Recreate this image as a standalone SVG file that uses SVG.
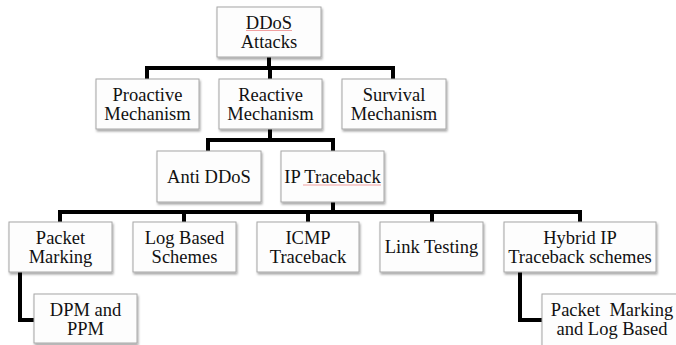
<svg xmlns="http://www.w3.org/2000/svg" width="676" height="345" viewBox="0 0 676 345">
<defs>
<filter id="sh" x="-10%" y="-10%" width="130%" height="140%">
<feDropShadow dx="1" dy="2" stdDeviation="1.2" flood-color="#000" flood-opacity="0.35"/>
</filter>
<style>
.box{fill:#fdfdfd;stroke:#a6a6a6;stroke-width:1;filter:url(#sh)}
.t{font-family:"Liberation Serif","Times New Roman",serif;font-size:18.5px;fill:#111;text-anchor:middle}
.c{fill:none;stroke:#000;stroke-width:4;stroke-linejoin:miter;stroke-linecap:butt}
.sp{stroke:#f2a0a0;stroke-width:1;fill:none}
</style>
</defs>
<rect width="676" height="345" fill="#fff"/>
<g id="connectors">
<path class="c" d="M269,57V70M147,81V68H393V81M270,68V81"/>
<path class="c" d="M270,129V142M208,153V140H333V153"/>
<path class="c" d="M333,202V214M60,224V212H580V224M184,212V224M308,212V224M432,212V224"/>
<path class="c" d="M20,272V320H36"/>
<path class="c" d="M520,272V320H544"/>
</g>
<g id="ddos">
<rect class="box" x="217" y="7" width="104" height="50"/>
<text class="t" x="269" y="28.5">DDoS</text>
<text class="t" x="269" y="48">Attacks</text>
<path class="sp" d="M246,30.5H292"/>
</g>
<g id="proactive">
<rect class="box" x="96" y="79" width="103" height="50"/>
<text class="t" x="147.5" y="100.5">Proactive</text>
<text class="t" x="147.5" y="120">Mechanism</text>
</g>
<g id="reactive">
<rect class="box" x="219" y="79" width="103" height="50"/>
<text class="t" x="270.5" y="100.5">Reactive</text>
<text class="t" x="270.5" y="120">Mechanism</text>
</g>
<g id="survival">
<rect class="box" x="342" y="79" width="104" height="50"/>
<text class="t" x="394" y="100.5">Survival</text>
<text class="t" x="394" y="120">Mechanism</text>
</g>
<g id="antiddos">
<rect class="box" x="157" y="151" width="104" height="51"/>
<text class="t" x="209" y="182.5">Anti DDoS</text>
</g>
<g id="iptraceback">
<rect class="box" x="281" y="151" width="103" height="51"/>
<text class="t" x="332.5" y="182.5">IP Traceback</text>
<path class="sp" d="M303,185H381"/>
</g>
<g id="packetmarking">
<rect class="box" x="9" y="222" width="103" height="50"/>
<text class="t" x="60.5" y="243.5">Packet</text>
<text class="t" x="60.5" y="263">Marking</text>
</g>
<g id="logbased">
<rect class="box" x="133" y="222" width="103" height="50"/>
<text class="t" x="184.5" y="243.5">Log Based</text>
<text class="t" x="184.5" y="263">Schemes</text>
</g>
<g id="icmp">
<rect class="box" x="257" y="222" width="102" height="50"/>
<text class="t" x="308" y="243.5">ICMP</text>
<text class="t" x="308" y="263">Traceback</text>
</g>
<g id="linktesting">
<rect class="box" x="380" y="222" width="103" height="50"/>
<text class="t" x="431.5" y="253">Link Testing</text>
</g>
<g id="hybrid">
<rect class="box" x="504" y="222" width="152" height="50"/>
<text class="t" x="580" y="243.5">Hybrid IP</text>
<text class="t" x="580" y="263">Traceback schemes</text>
</g>
<g id="dpmppm">
<rect class="box" x="34" y="294" width="103" height="49"/>
<text class="t" x="85.5" y="315.5">DPM and</text>
<text class="t" x="85.5" y="334.5">PPM</text>
</g>
<g id="pmlb">
<rect class="box" x="542" y="294" width="142" height="52"/>
<text class="t" x="612" y="315.5" xml:space="preserve">Packet  Marking</text>
<text class="t" x="612" y="334.5">and Log Based</text>
</g>
</svg>
